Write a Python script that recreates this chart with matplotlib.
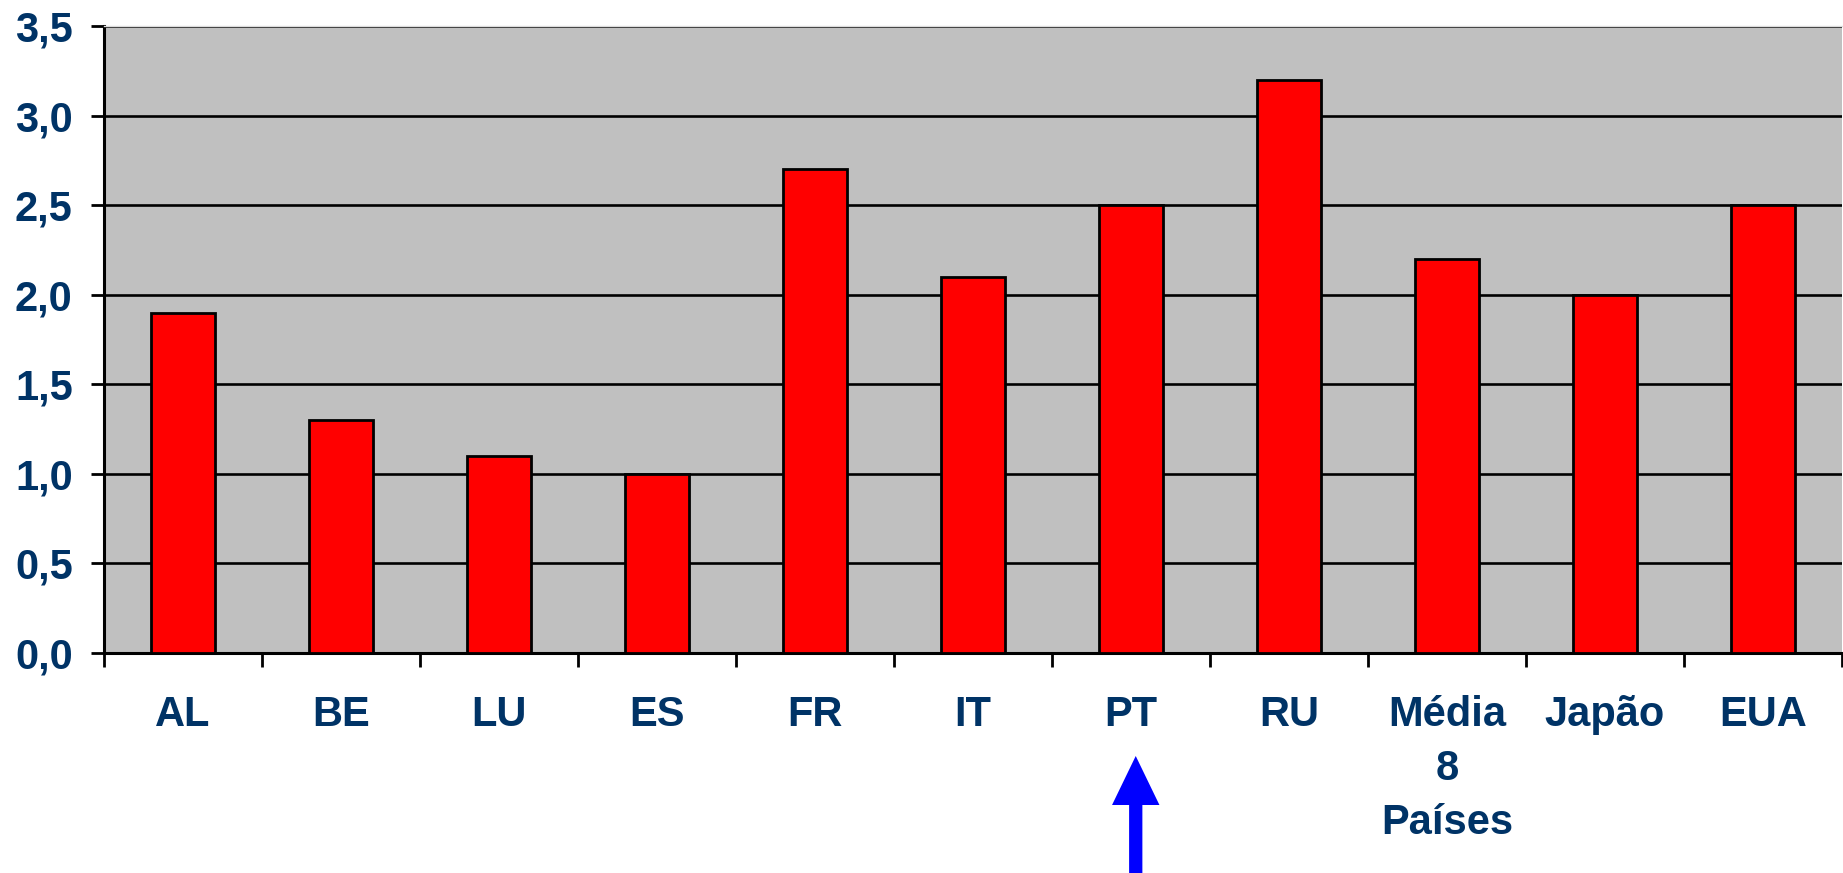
import matplotlib
matplotlib.use("Agg")
import matplotlib.pyplot as plt
import matplotlib.transforms as mtransforms
from matplotlib.patches import Polygon
import numpy as np

categorias = ["AL", "BE", "LU", "ES", "FR", "IT", "PT", "RU", "Média\n8\nPaíses", "Japão", "EUA"]
valores = [1.9, 1.3, 1.1, 1.0, 2.7, 2.1, 2.5, 3.2, 2.2, 2.0, 2.5]
yticks = [0.0, 0.5, 1.0, 1.5, 2.0, 2.5, 3.0, 3.5]
ytick_labels = ["0,0", "0,5", "1,0", "1,5", "2,0", "2,5", "3,0", "3,5"]
destaque = "PT"

azul_texto = "#003366"
plt.rcParams["font.family"] = ["Liberation Sans", "DejaVu Sans"]

W, H = 1843, 873
fig = plt.figure(figsize=(W / 100, H / 100), dpi=100)
fig.patch.set_facecolor("white")
ax = fig.add_axes([104 / W, (H - 653) / H, (1842 - 104) / W, (653 - 26) / H])
ax.set_facecolor("#c0c0c0")

x = np.arange(len(categorias))
ax.bar(x, valores, width=0.4, color="#ff0000", edgecolor="black", linewidth=2.0, zorder=3)

ax.set_xlim(-0.5, len(categorias) - 0.5)
ax.set_ylim(0, 3.5)

# horizontal grid lines
ax.set_yticks(yticks)
ax.set_yticklabels(ytick_labels)
ax.yaxis.grid(True, color="black", linewidth=1.9)
ax.set_axisbelow(True)

# category labels on major ticks, boundary marks on minor ticks
ax.set_xticks(x)
ax.set_xticklabels(categorias, linespacing=1.45)
ax.set_xticks(np.arange(len(categorias) + 1) - 0.5, minor=True)
ax.tick_params(axis="x", which="major", length=0, pad=30)
ax.tick_params(axis="x", which="minor", length=10, width=2.0, color="black")
ax.tick_params(axis="y", length=9.5, width=2.0, color="black", pad=13)

for lab in ax.get_xticklabels() + ax.get_yticklabels():
    lab.set_fontsize(30)
    lab.set_fontweight("bold")
    lab.set_color(azul_texto)

for side in ["left", "bottom"]:
    ax.spines[side].set_color("black")
    ax.spines[side].set_linewidth(2.2)
ax.spines["right"].set_visible(False)
ax.spines["top"].set_color("#dcdcdc")
ax.spines["top"].set_linewidth(1.0)

# blue arrow pointing up at the highlighted category
i = categorias.index(destaque) + 0.03
trans = mtransforms.blended_transform_factory(ax.transData, ax.transAxes)
px = 1 / (653 - 26)
tip = -(756 - 653) * px
base = -(805 - 653) * px
bottom = -(880 - 653) * px
hw, sw = 0.15, 0.042
seta = Polygon(
    [(i, tip), (i + hw, base), (i + sw, base), (i + sw, bottom),
     (i - sw, bottom), (i - sw, base), (i - hw, base)],
    closed=True, transform=trans, facecolor="#0000ff", edgecolor="none", clip_on=False,
)
ax.add_patch(seta)

fig.savefig("out.png", dpi=100, facecolor="white")
